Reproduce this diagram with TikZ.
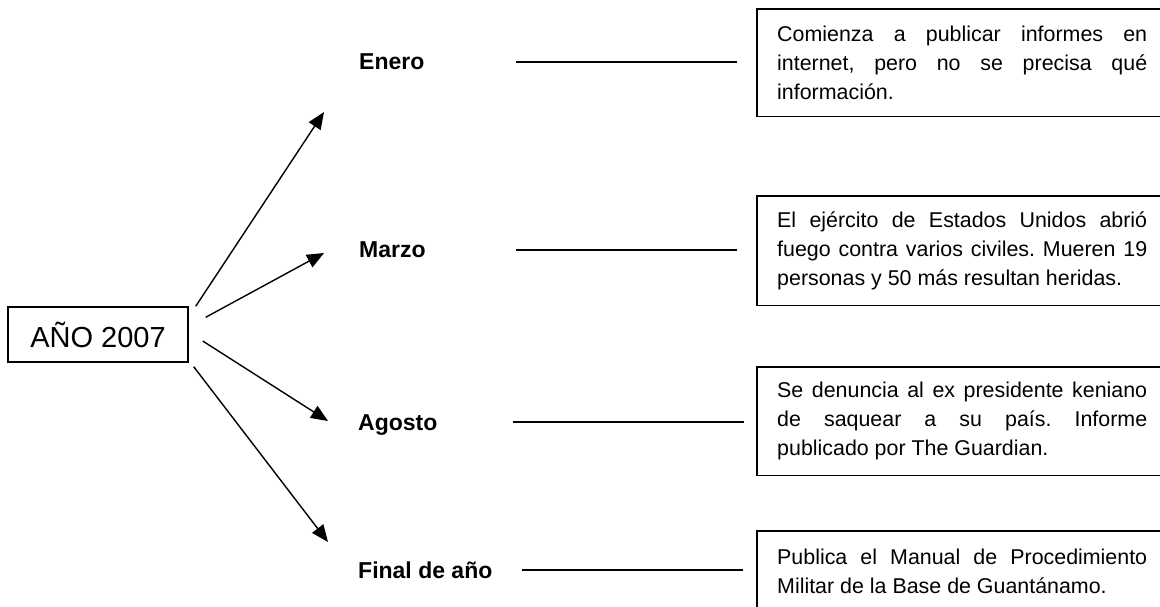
\documentclass[tikz,border=0pt]{standalone}
\usepackage{fontspec}
\setmainfont{Liberation Sans}
\usetikzlibrary{arrows.meta,calc}
\tolerance=10000
\hbadness=10000
\frenchspacing
\begin{document}
\begin{tikzpicture}[x=1bp,y=-1bp,
  txt/.style={font=\fontsize{21.4bp}{29bp}\selectfont},
  evbox/.style={txt,text width=370bp,inner xsep=20bp,inner ysep=0pt,align=justify,anchor=north west},
  boxline/.style={line width=1.5bp},
  lbl/.style={font=\fontsize{23bp}{28bp}\selectfont\bfseries,anchor=base west,inner sep=0pt},
  arr/.style={line width=1.4bp,-{Triangle[length=17bp,width=14bp]}},
  conn/.style={line width=1.5bp}]
\useasboundingbox (0,0) rectangle (1160,607);
\clip (0,0) rectangle (1160,607);

% central node
\node[draw,line width=1.4bp,minimum width=180bp,minimum height=55bp,inner sep=0pt,
      font=\fontsize{29bp}{34bp}\selectfont] (year) at (98,334.5) {AÑO 2007};

% month labels
\node[lbl] (enero)  at (359,70)  {Enero};
\node[lbl] (marzo)  at (359,258) {Marzo};
\node[lbl] (agosto) at (358,430) {Agosto};
\node[lbl] (final)  at (358,578) {Final de año};

% event boxes (their right side runs past the page edge)
\node[evbox,minimum height=107bp] (b1) at (757,9)
  {Comienza a publicar informes en\linebreak internet, pero no se precisa qué\linebreak información.};
\node[evbox,minimum height=109bp] (b2) at (757,196)
  {El ejército de Estados Unidos abrió\linebreak fuego contra varios civiles. Mueren 19\linebreak personas y 50 más resultan heridas.};
\node[evbox,minimum height=108bp] (b3) at (757,367)
  {Se denuncia al ex presidente keniano\linebreak de saquear a su país. Informe\linebreak publicado por The Guardian.};
\node[evbox,minimum height=80bp] (b4) at (757,531)
  {Publica el Manual de Procedimiento\linebreak Militar de la Base de Guantánamo.};
\foreach \b in {b1,b2,b3,b4}
  \draw[boxline] ($(\b.north east)+(80,0)$) -- (\b.north west) -- (\b.south west) -- ($(\b.south east)+(80,0)$);

% arrow end points
\coordinate (s1) at ($(year.north east)+(7,0)$);
\coordinate (s2) at ($(year.north east)+(17,11)$);
\coordinate (s3) at ($(year.east)+(14,6.5)$);
\coordinate (s4) at ($(year.south east)+(5,4)$);
\coordinate (t1) at (324,112);
\coordinate (t2) at (324,253);
\coordinate (t3) at (328,421);
\coordinate (t4) at (328,542);

\draw[arr] (s1) -- (t1);
\draw[arr] (s2) -- (t2);
\draw[arr] (s3) -- (t3);
\draw[arr] (s4) -- (t4);

% horizontal connectors
\coordinate (h1a) at (516,62);  \coordinate (h1b) at (737,62);
\coordinate (h2a) at (516,250); \coordinate (h2b) at (737,250);
\coordinate (h3a) at (513,422); \coordinate (h3b) at (744,422);
\coordinate (h4a) at (522,570); \coordinate (h4b) at (743,570);
\draw[conn] (h1a) -- (h1b);
\draw[conn] (h2a) -- (h2b);
\draw[conn] (h3a) -- (h3b);
\draw[conn] (h4a) -- (h4b);
\end{tikzpicture}
\end{document}
